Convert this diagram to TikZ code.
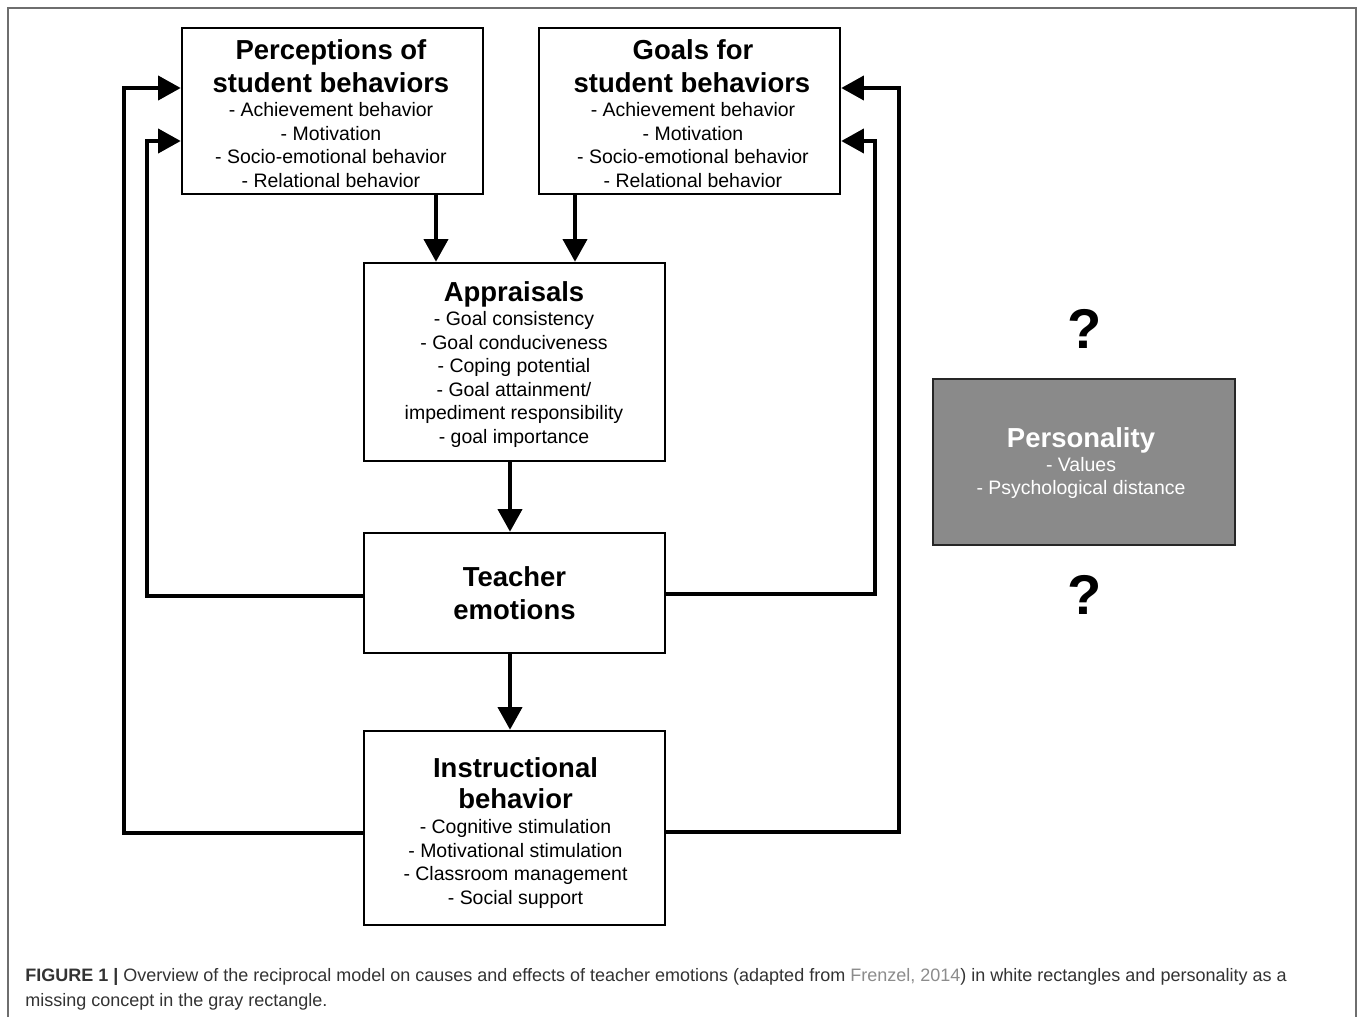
\documentclass[tikz,border=0pt]{standalone}
\usepackage{fontspec}
\setmainfont{Liberation Sans}
\usetikzlibrary{arrows.meta,calc}
\definecolor{persgray}{HTML}{8A8A8A}
\definecolor{capgray}{HTML}{333333}
\definecolor{linkgray}{HTML}{8C8C8C}
\definecolor{framegray}{HTML}{6E6E6E}
\newcommand\ttlfont{\fontsize{20.6}{24}\selectfont\bfseries}
\newcommand\bdyfont{\fontsize{14.6}{17.6}\selectfont}
\newcommand\capfont{\fontsize{13.5}{18}\selectfont}
\newcommand\qfont{\fontsize{42}{48}\selectfont\bfseries}
\begin{document}
\begin{tikzpicture}[x=0.75pt,y=-0.75pt,
  box/.style={draw=black, line width=1.9pt, fill=white, rectangle, inner sep=0pt, minimum width=225.75pt},
  persbox/.style={draw=black!85, line width=1.6pt, fill=persgray, rectangle, inner sep=0pt, minimum width=226.5pt, minimum height=124.5pt},
  conn/.style={line width=3pt, -{Triangle[length=17pt,width=18pt]}},
  txt/.style={anchor=base, inner sep=0pt},
  ttl/.style={txt, font=\ttlfont},
  bdy/.style={txt, font=\bdyfont},
  wttl/.style={ttl, text=white},
  wbdy/.style={bdy, text=white},
  qmark/.style={txt, font=\qfont},
  framed/.style={draw=framegray, line width=1.1pt}
]
\useasboundingbox (0,0) rectangle (1358,1017);
\fill[white] (0,0) rectangle (1358,1017);
\draw[framed] (8,1017) -- (8,8) -- (1356,8) -- (1356,1017);

% boxes
\node[box, minimum height=124.5pt] (perc) at (332.5,111) {};
\node[box, minimum height=124.5pt] (goals) at (689.5,111) {};
\node[box, minimum height=148.5pt] (appr) at (514.5,362) {};
\node[box, minimum height=90pt] (emo) at (514.5,593) {};
\node[box, minimum height=145.5pt] (instr) at (514.5,828) {};
\node[persbox] (pers) at (1084,462) {};

% texts
\node[ttl] (percA) at (331,59) {Perceptions of};
\node[ttl] (percB) at (331,92) {student behaviors};
\node[bdy] (percC) at (331,116.5) {- Achievement behavior};
\node[bdy] (percD) at (331,140) {- Motivation};
\node[bdy] (percE) at (331,163.5) {- Socio-emotional behavior};
\node[bdy] (percF) at (331,187) {- Relational behavior};

\node[ttl] (goalA) at (693,59) {Goals for};
\node[ttl] (goalB) at (692,92) {student behaviors};
\node[bdy] (goalC) at (693,116.5) {- Achievement behavior};
\node[bdy] (goalD) at (693,140) {- Motivation};
\node[bdy] (goalE) at (693,163.5) {- Socio-emotional behavior};
\node[bdy] (goalF) at (693,187) {- Relational behavior};

\node[ttl] (apprA) at (514,301) {Appraisals};
\node[bdy] (apprB) at (514,325.5) {- Goal consistency};
\node[bdy] (apprC) at (514,349) {- Goal conduciveness};
\node[bdy] (apprD) at (514,372.5) {- Coping potential};
\node[bdy] (apprE) at (514,396) {- Goal attainment/};
\node[bdy] (apprF) at (514,419.5) {impediment responsibility};
\node[bdy] (apprG) at (514,443) {- goal importance};

\node[ttl] (emoA) at (514.5,586) {Teacher};
\node[ttl] (emoB) at (514.5,619) {emotions};

\node[ttl] (instA) at (515.5,777) {Instructional};
\node[ttl] (instB) at (515.5,808.5) {behavior};
\node[bdy] (instC) at (515.5,833.5) {- Cognitive stimulation};
\node[bdy] (instD) at (515.5,857) {- Motivational stimulation};
\node[bdy] (instE) at (515.5,880.5) {- Classroom management};
\node[bdy] (instF) at (515.5,904) {- Social support};

\node[wttl] (persA) at (1081,447) {Personality};
\node[wbdy] (persB) at (1081,471) {- Values};
\node[wbdy] (persC) at (1081,494) {- Psychological distance};

\node[qmark] (q1) at (1085,348) {?};
\node[qmark] (q2) at (1085,614) {?};

% connectors
\coordinate (xa) at (436,0);
\coordinate (xb) at (575,0);
\coordinate (xc) at (510,0);
\draw[conn] (perc.south -| xa) -- (appr.north -| xa);
\draw[conn] (goals.south -| xb) -- (appr.north -| xb);
\draw[conn] (appr.south -| xc) -- (emo.north -| xc);
\draw[conn] (emo.south -| xc) -- (instr.north -| xc);

\draw[conn] ([yshift=-2.25pt]emo.west) -| (147,141) -- ([yshift=-22.5pt]perc.west);
\draw[conn] ([yshift=-3.75pt]instr.west) -| (124,88) -- ([yshift=17.25pt]perc.west);
\draw[conn] ([yshift=-0.75pt]emo.east) -| (875,141) -- ([yshift=-22.5pt]goals.east);
\draw[conn] ([yshift=-3pt]instr.east) -| (899,88) -- ([yshift=17.25pt]goals.east);

% caption
\node[anchor=base west, inner sep=0pt, font=\capfont, text=capgray] (cap1) at (25,981)
  {\textbf{FIGURE 1 |} Overview of the reciprocal model on causes and effects of teacher emotions (adapted from \textcolor{linkgray}{Frenzel, 2014}) in white rectangles and personality as a};
\node[anchor=base west, inner sep=0pt, font=\capfont, text=capgray] (cap2) at (25,1006)
  {missing concept in the gray rectangle.};
\end{tikzpicture}
\end{document}
